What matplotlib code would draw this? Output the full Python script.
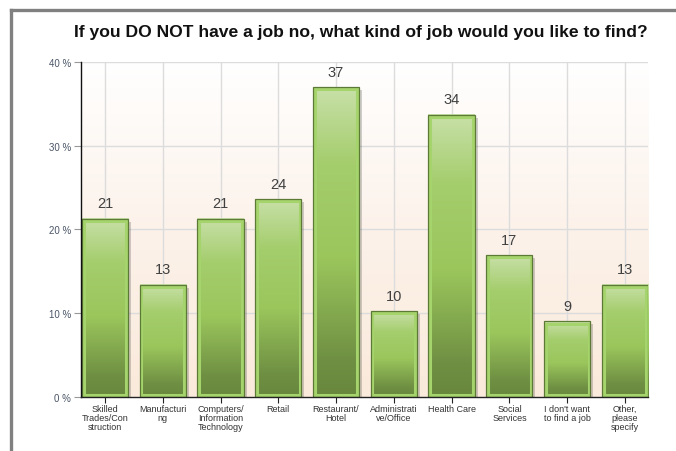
import numpy as np
import matplotlib.pyplot as plt
import matplotlib.transforms as mtransforms
from matplotlib.colors import LinearSegmentedColormap
from matplotlib.patches import Rectangle
from matplotlib.lines import Line2D

# survey answers (percent of respondents)
categories = [
    "Skilled\nTrades/Con\nstruction",
    "Manufacturi\nng",
    "Computers/\nInformation\nTechnology",
    "Retail",
    "Restaurant/\nHotel",
    "Administrati\nve/Office",
    "Health Care",
    "Social\nServices",
    "I don't want\nto find a job",
    "Other,\nplease\nspecify",
]
percents = [21.3, 13.4, 21.3, 23.6, 37.0, 10.2, 33.7, 16.9, 9.0, 13.4]
yticks = [0, 10, 20, 30, 40]

plt.rcParams['font.family'] = ['Liberation Sans', 'DejaVu Sans']

fig = plt.figure(figsize=(6.76, 4.52), dpi=100)
ax = fig.add_axes([0.1198, 0.120, 0.8388, 0.7406])

xlim = (-0.415, 9.4)
ylim = (0, 40)
ax.set_xlim(*xlim)
ax.set_ylim(*ylim)

# plot background: white fading to pale peach at the bottom
bg = LinearSegmentedColormap.from_list(
    'bg', [(0.0, '#faeadb'), (0.5, '#fcf2ea'), (1.0, '#ffffff')])
grad = np.linspace(0, 1, 256).reshape(-1, 1)
ax.imshow(grad, extent=(xlim[0], xlim[1], 0, 40), origin='lower', cmap=bg,
          aspect='auto', zorder=0)

# grid
for x in range(len(categories)):
    ax.axvline(x, color='#dcdcdc', lw=1.0, zorder=1)
for y in yticks[1:]:
    ax.axhline(y, color='#dcdcdc', lw=1.0, zorder=1)

bar_cmap = LinearSegmentedColormap.from_list(
    'bar', [(0.0, '#68873d'), (0.12, '#6f9043'), (0.45, '#9bc65c'),
            (0.75, '#a4cd6c'), (1.0, '#c8e0a8')])
w = 0.8
shadow = mtransforms.offset_copy(ax.transData, fig=fig, x=3, y=-3, units='dots')
for i, v in enumerate(percents):
    x0 = i - w / 2
    # drop shadow
    ax.add_patch(Rectangle((x0, 0), w, v, facecolor='#000000', alpha=0.18,
                           edgecolor='none', transform=shadow, zorder=2))
    ax.imshow(grad, extent=(x0, x0 + w, 0, v), origin='lower', cmap=bar_cmap,
              aspect='auto', zorder=3)
    # light inner rim and dark outline
    ax.add_patch(Rectangle((x0 + 0.03, 0.25), w - 0.06, v - 0.5, fill=False,
                           edgecolor='#a6d46c', lw=2.2, zorder=4))
    ax.add_patch(Rectangle((x0, 0), w, v, fill=False, edgecolor='#5c7a36',
                           lw=0.9, zorder=5))
    ax.text(i, v + 1.0, f"{v:.0f}", ha='center', va='bottom', fontsize=10.5,
            color='#404040', zorder=6)

ax.set_xlim(*xlim)
ax.set_ylim(*ylim)

ax.set_xticks(range(len(categories)))
ax.set_xticklabels(categories, fontsize=6.5, color='#333333', linespacing=1.05)
ax.set_yticks(yticks)
ax.set_yticklabels([f"{t} %" for t in yticks], fontsize=7, color='#4a5566')
ax.tick_params(axis='x', length=4, width=0.8, color='#222222', pad=1)
ax.tick_params(axis='y', length=5, width=0.8, color='#999999', pad=2)

for side in ('top', 'right'):
    ax.spines[side].set_visible(False)
ax.spines['left'].set_color('#111111')
ax.spines['left'].set_linewidth(1.0)
ax.spines['bottom'].set_color('#222222')
ax.spines['bottom'].set_linewidth(1.0)
ax.spines['left'].set_zorder(7)
ax.spines['bottom'].set_zorder(7)

fig.text(0.534, 0.927, "If you DO NOT have a job no, what kind of job would you like to find?",
         ha='center', va='center', fontsize=12.6, fontweight='bold', color='#111111')

# gray panel frame
fw, fh = 676, 452
fig.add_artist(Line2D([11 / fw, 11 / fw], [0, 1 - 11 / fh], color='#808080', lw=2.4,
                      transform=fig.transFigure))
fig.add_artist(Line2D([11 / fw, 1], [1 - 11 / fh, 1 - 11 / fh], color='#808080', lw=2.4,
                      transform=fig.transFigure))

fig.savefig('out.png', dpi=100)
